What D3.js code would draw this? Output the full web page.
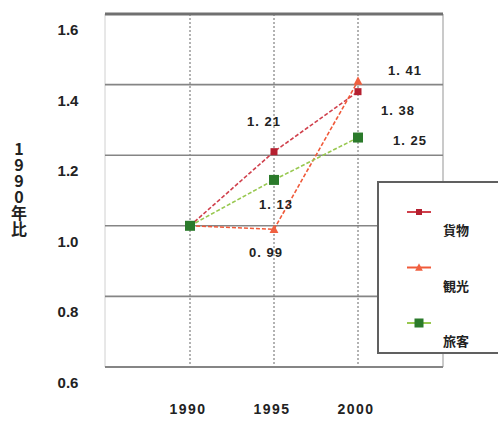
<!DOCTYPE html>
<html>
<head>
<meta charset="utf-8">
<script src="https://cdn.jsdelivr.net/npm/d3@7"></script>
<style>
  html, body { margin: 0; padding: 0; background: #fff; }
  svg { display: block; font-family: "Liberation Sans", "Noto Sans CJK JP", sans-serif; }
</style>
</head>
<body>
<svg id="chart" width="498" height="421"></svg>
<script>
// Index relative to 1990 (=1.0)
const years = [1990, 1995, 2000];
const seriesNames = ["貨物", "観光", "旅客"];
const cargoValues = [1.0, 1.21, 1.38];
const tourismValues = [1.0, 0.99, 1.41];
const passengerValues = [1.0, 1.13, 1.25];
const yTicks = [0.6, 0.8, 1.0, 1.2, 1.4, 1.6];
const yTickLabels = ["0.6", "0.8", "1.0", "1.2", "1.4", "1.6"];
const yAxisTitle = "1990年比";

// value labels: [series index, year index, text]
const valueLabels = [
  [0, 1, "1.21"], [2, 1, "1.13"], [1, 1, "0.99"],
  [1, 2, "1.41"], [0, 2, "1.38"], [2, 2, "1.25"]
];
// label offsets from their point (layout only)
const labelOffsets = [[-10, -31], [2, 24], [-8, 23], [47, -11], [40, 18], [52, 2]];

const seriesValues = [cargoValues, tourismValues, passengerValues];
const styles = [
  { line: "#d0404c", mark: "#b52030", shape: "square", size: 7 },
  { line: "#f05a3a", mark: "#f06040", shape: "triangle", size: 8 },
  { line: "#98c850", mark: "#2b7a2b", shape: "square", size: 10 }
];

const svg = d3.select("#chart");
const plot = { left: 105, right: 443, top: 14, bottom: 367 };

const x = d3.scaleLinear().domain([1990, 2000]).range([190, 358]);
const y = d3.scaleLinear().domain([0.6, 1.6]).range([plot.bottom, plot.top]);

// frame sides
svg.append("line").attr("x1", plot.left).attr("x2", plot.left)
  .attr("y1", plot.top).attr("y2", plot.bottom).attr("stroke", "#d0d0d0").attr("stroke-width", 1);
svg.append("line").attr("x1", plot.right).attr("x2", plot.right)
  .attr("y1", plot.top).attr("y2", plot.bottom).attr("stroke", "#b8b8b8").attr("stroke-width", 1.5);

// vertical dotted grid at each year
svg.append("g").selectAll("line").data(years).join("line")
  .attr("x1", d => x(d)).attr("x2", d => x(d))
  .attr("y1", plot.top).attr("y2", plot.bottom)
  .attr("stroke", "#666").attr("stroke-width", 1).attr("stroke-dasharray", "2,2");

// horizontal grid lines
svg.append("g").selectAll("line").data(yTicks).join("line")
  .attr("x1", plot.left).attr("x2", plot.right)
  .attr("y1", d => y(d)).attr("y2", d => y(d))
  .attr("stroke", d => (d === 1.6 ? "#707070" : "#858585"))
  .attr("stroke-width", d => (d === 1.6 ? 3 : (d === 0.6 ? 2 : 1.6)));

// y tick labels
svg.append("g").selectAll("text").data(yTicks).join("text")
  .attr("x", 68).attr("y", d => y(d) + 21)
  .attr("text-anchor", "middle")
  .attr("font-size", 15).attr("font-weight", "bold").attr("fill", "#222")
  .text((d, i) => yTickLabels[i]);

// x tick labels
svg.append("g").selectAll("text").data(years).join("text")
  .attr("x", d => x(d) - 2).attr("y", 414)
  .attr("text-anchor", "middle")
  .attr("font-size", 14).attr("font-weight", "bold").attr("fill", "#222")
  .attr("letter-spacing", 1.5)
  .text(d => d);

// vertical axis title (upright characters, top to bottom)
svg.append("text")
  .attr("x", 19).attr("y", 141)
  .attr("font-size", 16).attr("font-weight", "bold").attr("fill", "#222")
  .attr("font-family", "'Noto Sans CJK JP', sans-serif")
  .style("writing-mode", "vertical-rl")
  .style("text-orientation", "upright")
  .text(yAxisTitle);

// series lines
const line = d3.line().x((d, i) => x(years[i])).y(d => y(d));
svg.append("g").selectAll("path").data(seriesValues).join("path")
  .attr("d", d => line(d))
  .attr("fill", "none")
  .attr("stroke", (d, i) => styles[i].line)
  .attr("stroke-width", 1.6)
  .attr("stroke-dasharray", "4,2");

function drawMarker(g, shape, cx, cy, size, color) {
  if (shape === "square") {
    g.append("rect").attr("x", cx - size / 2).attr("y", cy - size / 2)
      .attr("width", size).attr("height", size).attr("fill", color);
  } else {
    const s = size;
    g.append("path")
      .attr("d", `M${cx},${cy - s * 0.6}L${cx + s * 0.55},${cy + s * 0.45}L${cx - s * 0.55},${cy + s * 0.45}Z`)
      .attr("fill", color);
  }
}

const marks = svg.append("g");
seriesValues.forEach((vals, si) => {
  vals.forEach((v, i) => {
    drawMarker(marks, styles[si].shape, x(years[i]), y(v), styles[si].size, styles[si].mark);
  });
});

// value labels
svg.append("g").selectAll("text").data(valueLabels).join("text")
  .attr("x", (d, i) => x(years[d[1]]) + labelOffsets[i][0])
  .attr("y", (d, i) => y(seriesValues[d[0]][d[1]]) + labelOffsets[i][1] + 5)
  .attr("text-anchor", "middle")
  .attr("font-size", 13).attr("font-weight", "bold").attr("fill", "#222")
  .attr("letter-spacing", 1)
  .text(d => d[2].replace(".", ". "));

// legend
const legend = svg.append("g");
legend.append("rect").attr("x", 378).attr("y", 182).attr("width", 150).attr("height", 171)
  .attr("fill", "#fff").attr("stroke", "#606060").attr("stroke-width", 2);
seriesNames.forEach((name, i) => {
  const ly = 212 + i * 55.5;
  legend.append("line").attr("x1", 407).attr("x2", 431).attr("y1", ly).attr("y2", ly)
    .attr("stroke", styles[i].line).attr("stroke-width", 2);
  drawMarker(legend, styles[i].shape, 419, ly, styles[i].size - 1, styles[i].mark);
  legend.append("text").attr("x", 443).attr("y", ly + 23)
    .attr("font-size", 13).attr("font-weight", "bold").attr("fill", "#222")
    .attr("font-family", "'Noto Sans CJK JP', sans-serif")
    .text(name);
});
</script>
</body>
</html>
